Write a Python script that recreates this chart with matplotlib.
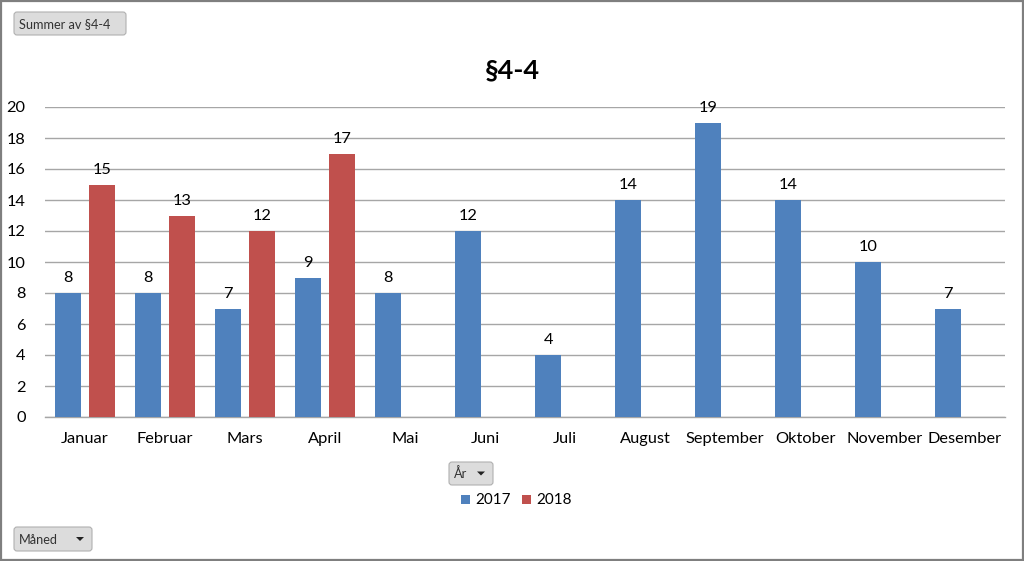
import matplotlib
matplotlib.use("Agg")
import matplotlib.pyplot as plt
from matplotlib.patches import FancyBboxPatch, Rectangle, Polygon
import numpy as np

months = ["Januar", "Februar", "Mars", "April", "Mai", "Juni", "Juli",
          "August", "September", "Oktober", "November", "Desember"]
vals_2017 = [8, 8, 7, 9, 8, 12, 4, 14, 19, 14, 10, 7]
vals_2018 = [15, 13, 12, 17, None, None, None, None, None, None, None, None]
series_names = ["2017", "2018"]
title = "§4-4"
yticks = [0, 2, 4, 6, 8, 10, 12, 14, 16, 18, 20]

blue = "#4F81BD"
red = "#C0504D"
plt.rcParams['font.family'] = ['Lato', 'DejaVu Sans']

W, H = 1024, 561
fig = plt.figure(figsize=(W / 100, H / 100), dpi=100)

def fx(px):
    return px / W

def fy(py):
    return 1 - py / H

ax = fig.add_axes([fx(45), fy(417), fx(1005) - fx(45), fy(107) - fy(417)])
x = np.arange(len(months))
bw = 0.33
off = 0.21
fs = 11.8
for i, v in enumerate(vals_2017):
    ax.bar(x[i] - off, v, width=bw, color=blue, zorder=3)
    ax.text(x[i] - off, v + 0.5, str(v), ha='center', va='bottom', fontsize=fs, color='black', zorder=4)
for i, v in enumerate(vals_2018):
    if v is None:
        continue
    ax.bar(x[i] + off, v, width=bw, color=red, zorder=3)
    ax.text(x[i] + off, v + 0.5, str(v), ha='center', va='bottom', fontsize=fs, color='black', zorder=4)

ax.set_xlim(-0.5, len(months) - 0.5)
ax.set_ylim(0, 20)
ax.set_yticks(yticks)
ax.set_yticklabels([str(t) for t in yticks], fontsize=fs)
ax.set_xticks(x)
ax.set_xticklabels(months, fontsize=fs)
ax.tick_params(axis='both', length=0)
ax.tick_params(axis='y', pad=14)
ax.tick_params(axis='x', pad=11)
ax.grid(axis='y', color='#A6A6A6', linewidth=1.0, zorder=0)
for s in ['top', 'right', 'left']:
    ax.spines[s].set_visible(False)
ax.spines['bottom'].set_color('#A6A6A6')
ax.spines['bottom'].set_linewidth(1.0)
ax.set_axisbelow(True)

# frame
ov0 = fig.add_axes([0, 0, 1, 1], zorder=-1)
ov0.set_xlim(0, W)
ov0.set_ylim(H, 0)
ov0.axis('off')
ov0.add_patch(Rectangle((1, 1), W - 2.5, H - 2.5, fill=False, edgecolor='#7F7F7F', linewidth=1.6))

fig.text(0.5, fy(70), title, ha='center', va='center', fontsize=19.5, fontweight='bold')

ov = fig.add_axes([0, 0, 1, 1], zorder=5)
ov.set_xlim(0, W)
ov.set_ylim(H, 0)
ov.axis('off')

def button(x0, y0, w, h, label, arrow=False):
    ov.add_patch(FancyBboxPatch((x0, y0), w, h, boxstyle="round,pad=0,rounding_size=3",
                                facecolor='#DCDCDC', edgecolor='#B0B0B0', linewidth=0.8))
    ov.text(x0 + 5, y0 + h / 2 + 0.5, label, ha='left', va='center', fontsize=9.2, color='#333333')
    if arrow:
        ax_ = x0 + w - 12
        ay = y0 + h / 2
        ov.add_patch(Polygon([(ax_ - 4, ay - 2), (ax_ + 4, ay - 2), (ax_, ay + 2)],
                             closed=True, facecolor='#222222', edgecolor='none'))

button(14, 12, 112, 23, "Summer av §4-4")
button(449, 462, 44, 23, "År", arrow=True)
button(14, 527, 78, 24, "Måned", arrow=True)

# legend
ov.add_patch(Rectangle((461, 495), 9, 9, facecolor=blue, edgecolor='none'))
ov.text(475, 500, series_names[0], ha='left', va='center', fontsize=11)
ov.add_patch(Rectangle((522, 495), 9, 9, facecolor=red, edgecolor='none'))
ov.text(536, 500, series_names[1], ha='left', va='center', fontsize=11)

fig.savefig("out.png", dpi=100, facecolor='white')
